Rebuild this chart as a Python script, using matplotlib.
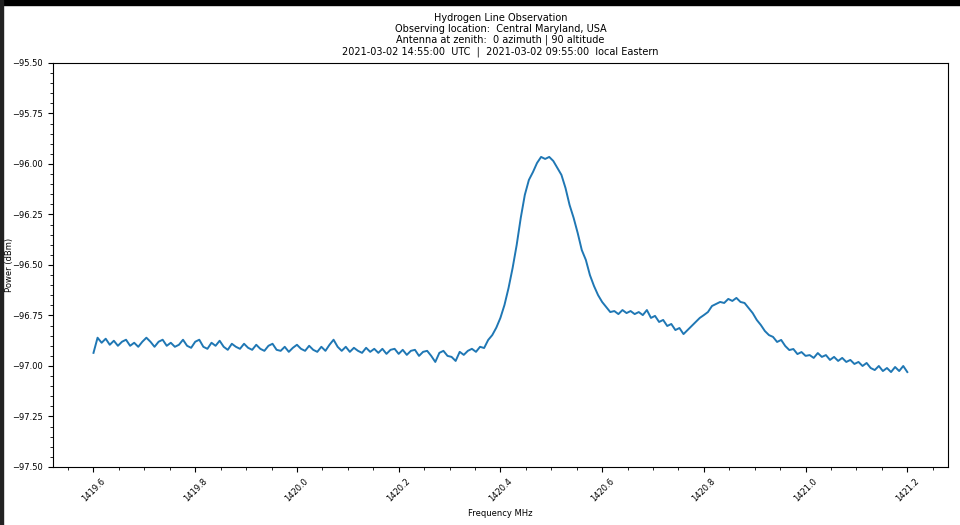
import numpy as np
import matplotlib
matplotlib.use("Agg")
import matplotlib.pyplot as plt
from matplotlib.ticker import AutoMinorLocator, MultipleLocator, FormatStrFormatter
from matplotlib.patches import Rectangle

# measured power (dBm), evenly spaced samples from 1419.6 to 1421.2 MHz
power = [
    -96.935, -96.860, -96.885, -96.865, -96.895, -96.875, -96.900, -96.880, -96.870, -96.900,
    -96.885, -96.905, -96.880, -96.860, -96.880, -96.905, -96.880, -96.870, -96.900, -96.885,
    -96.905, -96.895, -96.870, -96.900, -96.910, -96.880, -96.870, -96.905, -96.915, -96.885,
    -96.900, -96.875, -96.905, -96.920, -96.890, -96.905, -96.915, -96.890, -96.910, -96.920,
    -96.895, -96.915, -96.925, -96.900, -96.890, -96.920, -96.925, -96.905, -96.930, -96.910,
    -96.895, -96.915, -96.925, -96.900, -96.920, -96.930, -96.905, -96.925, -96.895, -96.870,
    -96.905, -96.925, -96.905, -96.930, -96.910, -96.925, -96.935, -96.910, -96.930, -96.915,
    -96.935, -96.915, -96.940, -96.920, -96.915, -96.940, -96.920, -96.945, -96.925, -96.920,
    -96.950, -96.930, -96.925, -96.950, -96.980, -96.935, -96.925, -96.950, -96.955, -96.975,
    -96.930, -96.945, -96.925, -96.915, -96.930, -96.905, -96.911, -96.871, -96.847, -96.810,
    -96.762, -96.698, -96.614, -96.515, -96.401, -96.267, -96.153, -96.079, -96.040, -95.995,
    -95.965, -95.975, -95.965, -95.985, -96.020, -96.054, -96.119, -96.203, -96.267, -96.342,
    -96.426, -96.475, -96.550, -96.604, -96.649, -96.683, -96.708, -96.733, -96.728, -96.743,
    -96.723, -96.738, -96.728, -96.743, -96.733, -96.748, -96.723, -96.762, -96.752, -96.782,
    -96.772, -96.802, -96.792, -96.822, -96.812, -96.842, -96.822, -96.802, -96.782, -96.762,
    -96.748, -96.733, -96.703, -96.693, -96.683, -96.688, -96.668, -96.678, -96.663, -96.683,
    -96.688, -96.713, -96.738, -96.772, -96.797, -96.827, -96.847, -96.856, -96.881, -96.871,
    -96.901, -96.921, -96.916, -96.941, -96.931, -96.950, -96.946, -96.960, -96.936, -96.955,
    -96.946, -96.970, -96.955, -96.975, -96.960, -96.980, -96.970, -96.990, -96.980, -97.000,
    -96.985, -97.010, -97.020, -97.000, -97.025, -97.010, -97.030, -97.005, -97.025, -97.000,
    -97.030,
]
freq = np.linspace(1419.6, 1421.2, len(power))

title = ("Hydrogen Line Observation\n"
         "Observing location:  Central Maryland, USA\n"
         "Antenna at zenith:  0 azimuth | 90 altitude\n"
         "2021-03-02 14:55:00  UTC  |  2021-03-02 09:55:00  local Eastern")

fig = plt.figure(figsize=(9.6, 5.25), dpi=100)
ax = fig.add_axes([0.055, 0.1105, 0.9325, 0.7695])
ax.plot(freq, power, color="tab:blue", lw=1.4)

ax.set_ylim(-97.5, -95.5)
ax.xaxis.set_major_locator(MultipleLocator(0.2))
ax.xaxis.set_minor_locator(AutoMinorLocator(4))
ax.yaxis.set_major_locator(MultipleLocator(0.25))
ax.yaxis.set_minor_locator(AutoMinorLocator(5))
ax.xaxis.set_major_formatter(FormatStrFormatter("%.1f"))
ax.yaxis.set_major_formatter(FormatStrFormatter("%.2f"))
ax.tick_params(labelsize=6)
plt.setp(ax.get_xticklabels(), rotation=45)
ax.set_yticklabels([t.get_text().replace("-", "\u2212") for t in ax.get_yticklabels()])

ax.set_title(title, fontsize=7, linespacing=1.15)
ax.set_xlabel("Frequency MHz", fontsize=6)
ax.set_ylabel("Power (dBm)", fontsize=6)
ax.yaxis.set_label_coords(-0.043, 0.5)

# screenshot edges
fig.patches.append(Rectangle((0, 1 - 5 / 525), 1, 5 / 525, transform=fig.transFigure,
                             color="black", zorder=10))
fig.patches.append(Rectangle((0, 0), 3 / 960, 1, transform=fig.transFigure,
                             color="#222222", zorder=10))

fig.savefig("out.png", dpi=100)
